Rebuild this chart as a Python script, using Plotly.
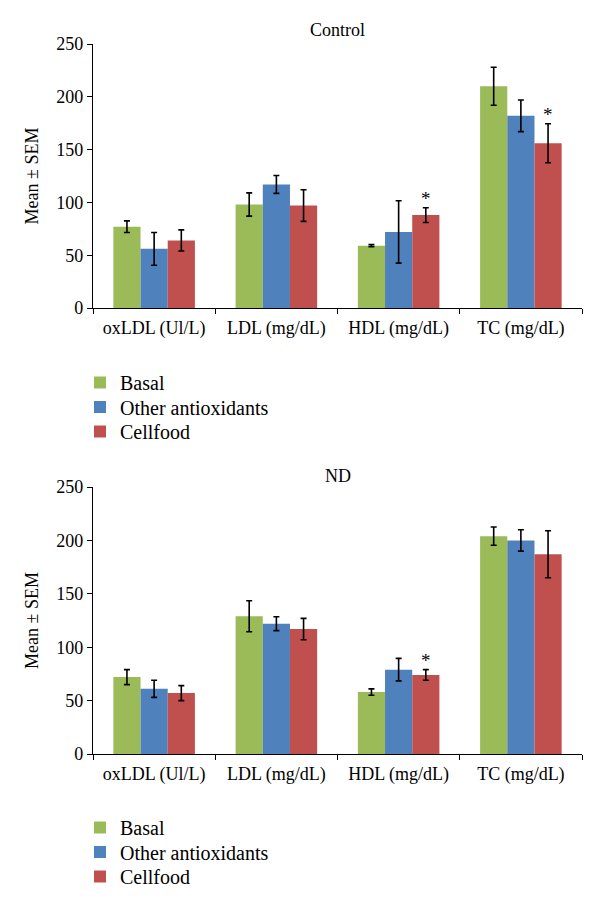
import plotly.graph_objects as go

categories = ["oxLDL (Ul/L)", "LDL (mg/dL)", "HDL (mg/dL)", "TC (mg/dL)"]
series_names = ["Basal", "Other antioxidants", "Cellfood"]
colors = ["#9BBB59", "#4F81BD", "#C0504D"]

control_basal = [77, 98, 59, 210]
control_basal_err = [5.5, 11, 1, 18]
control_other = [56, 117, 72, 182]
control_other_err = [15.5, 8.5, 29.5, 15]
control_cellfood = [64, 97, 88, 156]
control_cellfood_err = [10, 15, 7, 18.5]
control_sig = [False, False, True, True]

nd_basal = [72, 129, 58, 204]
nd_basal_err = [7, 14.5, 3, 8.5]
nd_other = [61, 122, 79, 200]
nd_other_err = [8, 6.5, 10.5, 10]
nd_cellfood = [57, 117, 74, 187]
nd_cellfood_err = [7, 10, 5, 22]
nd_sig = [False, False, True, False]

# the page body has an 8px margin; the figure is sized to fit inside it
PAGE_OFF = 8
W, H = 600 - 2 * PAGE_OFF, 910 - 2 * PAGE_OFF


def px_x(x):
    return (x - PAGE_OFF) / W


def px_y(y):
    return (H - (y - PAGE_OFF)) / H


panels = [
    dict(title="Control", vals=[control_basal, control_other, control_cellfood],
         errs=[control_basal_err, control_other_err, control_cellfood_err],
         sig=control_sig, xa="x", ya="y", title_y=30, legend_top=363),
    dict(title="ND", vals=[nd_basal, nd_other, nd_cellfood],
         errs=[nd_basal_err, nd_other_err, nd_cellfood_err],
         sig=nd_sig, xa="x2", ya="y2", title_y=476, legend_top=808),
]

FONT = "Liberation Serif, Times New Roman, serif"
BARGAP = 0.333
LEGEND_STEP = 24.5
fig = go.Figure()

annotations = []
legends = {}
n = 0
for p in panels:
    for k in range(3):
        n += 1
        lname = "legend" if n == 1 else "legend%d" % n
        legends[lname] = dict(
            orientation="v", xanchor="left", yanchor="top", x=px_x(80),
            y=px_y(p["legend_top"] + k * LEGEND_STEP), bgcolor="rgba(0,0,0,0)",
            font=dict(family=FONT, size=20, color="black"))
        fig.add_trace(go.Bar(
            x=categories, y=p["vals"][k], name=series_names[k],
            marker=dict(color=colors[k], line=dict(width=0)),
            error_y=dict(type="data", array=p["errs"][k], visible=True,
                         color="black", thickness=1.6, width=3),
            xaxis=p["xa"], yaxis=p["ya"], legend=lname, showlegend=True,
        ))
    bw = (1 - BARGAP) / 3
    for i, s in enumerate(p["sig"]):
        if s:
            top = p["vals"][2][i] + p["errs"][2][i]
            annotations.append(dict(
                x=i + bw, y=top, xref=p["xa"], yref=p["ya"], text="*",
                showarrow=False, yanchor="bottom", yshift=-3,
                font=dict(family=FONT, size=19, color="black")))

fig.update_layout(
    width=W, height=H,
    margin=dict(l=0, r=0, t=0, b=0, autoexpand=False),
    paper_bgcolor="white", plot_bgcolor="white",
    barmode="group", bargap=BARGAP, bargroupgap=0,
    font=dict(family=FONT, size=18, color="black"),
    showlegend=True,
    **legends,
)

top_dom = [px_y(308), px_y(44)]
bot_dom = [px_y(754), px_y(487)]
xdom = [px_x(93), px_x(582)]

axis_x = dict(type="category", tickson="boundaries", ticks="outside", ticklen=5,
              tickwidth=1.3, tickcolor="black", showline=True, linecolor="black",
              linewidth=1.3, showgrid=False, domain=xdom, automargin=False,
              ticklabelstandoff=3,
              tickfont=dict(family=FONT, size=18, color="black"))
axis_y = dict(range=[0, 250], dtick=50, ticks="outside", ticklen=5, tickwidth=1.3,
              tickcolor="black", showline=True, linecolor="black", linewidth=1.3,
              showgrid=False, zeroline=False, automargin=False,
              tickfont=dict(family=FONT, size=18, color="black"),
              title=dict(text="Mean ± SEM", standoff=12,
                         font=dict(family=FONT, size=18, color="black")))

fig.update_layout(
    xaxis=dict(axis_x, anchor="y"),
    yaxis=dict(axis_y, domain=top_dom, anchor="x"),
    xaxis2=dict(axis_x, anchor="y2"),
    yaxis2=dict(axis_y, domain=bot_dom, anchor="x2"),
)

for p in panels:
    annotations.append(dict(x=(xdom[0] + xdom[1]) / 2, y=px_y(p["title_y"]),
                            xref="paper", yref="paper", text=p["title"],
                            showarrow=False, yanchor="middle",
                            font=dict(family=FONT, size=18, color="black")))
fig.update_layout(annotations=annotations)

fig.write_html("out.html")
